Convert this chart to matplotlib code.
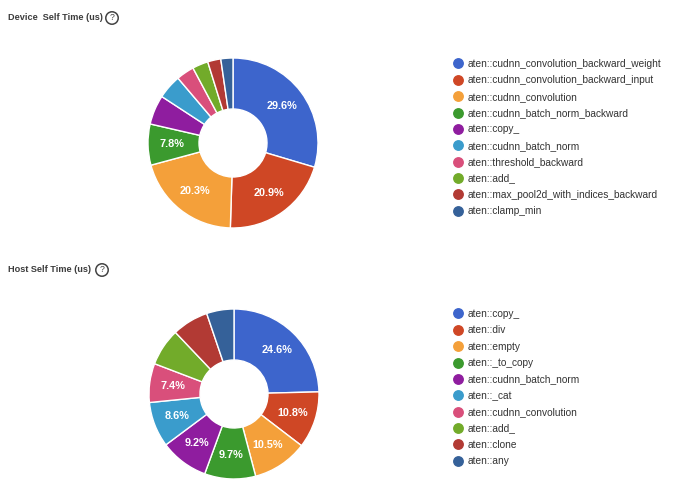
import matplotlib.pyplot as plt
from matplotlib.lines import Line2D

plt.rcParams['font.family'] = ['Liberation Sans', 'DejaVu Sans']

device_ops = ["aten::cudnn_convolution_backward_weight", "aten::cudnn_convolution_backward_input",
              "aten::cudnn_convolution", "aten::cudnn_batch_norm_backward", "aten::copy_",
              "aten::cudnn_batch_norm", "aten::threshold_backward", "aten::add_",
              "aten::max_pool2d_with_indices_backward", "aten::clamp_min"]
device_pct = [29.6, 20.9, 20.3, 7.8, 5.6, 4.6, 3.4, 3.0, 2.5, 2.3]

host_ops = ["aten::copy_", "aten::div", "aten::empty", "aten::_to_copy", "aten::cudnn_batch_norm",
            "aten::_cat", "aten::cudnn_convolution", "aten::add_", "aten::clone", "aten::any"]
host_pct = [24.6, 10.8, 10.5, 9.7, 9.2, 8.6, 7.4, 7.1, 6.9, 5.2]

colors = ['#3d65cc', '#cf4725', '#f4a03a', '#3b9a2e', '#8f1d9f',
          '#3a9ccc', '#d94f7b', '#72ab2a', '#b23a34', '#356199']

W, H = 680, 500
fig = plt.figure(figsize=(6.8, 5.0), dpi=100)


def donut(cx, cy, r, values, min_label, names, title, title_y, legend_y):
    ax = fig.add_axes([(cx - r) / W, 1 - (cy + r) / H, 2 * r / W, 2 * r / H])
    fmt = lambda p: f"{p:.1f}%" if p >= min_label else ""
    ax.pie(values, colors=colors, startangle=90, counterclock=False,
           autopct=fmt, pctdistance=0.72,
           wedgeprops=dict(width=0.6, edgecolor='white', linewidth=1),
           textprops=dict(color='white', fontsize=7.8, fontweight='bold'))
    ax.set_xlim(-1, 1)
    ax.set_ylim(-1, 1)

    fig.text(8 / W, 1 - title_y / H, title, fontsize=6.6, fontweight='bold', color='#3c3c3c',
             va='center', ha='left')

    handles = [Line2D([], [], marker='o', linestyle='', markersize=6.8, color=c) for c in colors]
    fig.legend(handles, names, loc='upper left', bbox_to_anchor=(454 / W, 1 - legend_y / H),
               frameon=False, fontsize=7.25, labelcolor='#333333', handlelength=0.8,
               handletextpad=0.6, labelspacing=0.63, borderpad=0, borderaxespad=0)


donut(233, 143, 85, device_pct, 7.0, device_ops, "Device  Self Time (us)", 18, 59)
donut(234, 394, 85, host_pct, 7.3, host_ops, "Host Self Time (us)", 270, 309)

# help icons next to the titles
for x, y in [(112, 18), (102, 270)]:
    fig.text(x / W, 1 - y / H, '?', fontsize=6.2, color='#444444', ha='center', va='center',
             bbox=dict(boxstyle='circle,pad=0.2', fc='white', ec='#444444', lw=1.1))

fig.savefig("out.png", dpi=100, facecolor='white')
